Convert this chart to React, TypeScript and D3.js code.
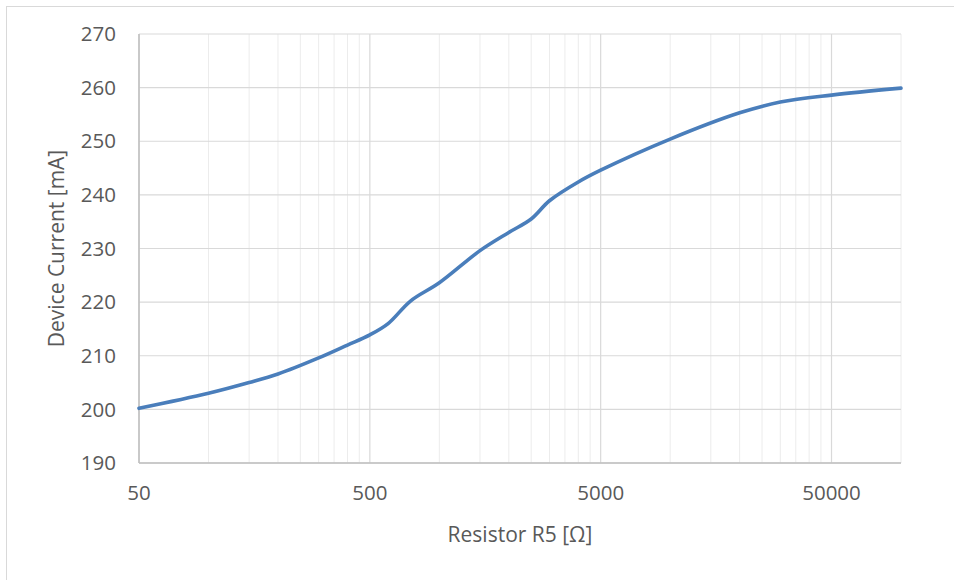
import React from 'react';
import * as d3 from 'd3';

// resistor sweep
const resistance = [
  50, 100, 150, 200, 300, 400, 500, 600, 750, 1000, 1500, 2000, 2500, 3000,
  4000, 5000, 10000, 20000, 30000, 50000, 100000,
];
const current = [
  200.2, 203.0, 205.0, 206.6, 209.6, 212.0, 213.9, 216.0, 220.2, 223.6, 229.6,
  233.0, 235.5, 238.9, 242.4, 244.6, 250.4, 255.3, 257.3, 258.6, 259.9,
];
const xMajorTicks = [50, 500, 5000, 50000];
const xTickLabels = ['50', '500', '5000', '50000'];
const yTicks = [190, 200, 210, 220, 230, 240, 250, 260, 270];

const width = 954;
const height = 580;
const margin = { top: 34, right: 53, bottom: 117, left: 139 };
const font = '"Open Sans", "Noto Sans", sans-serif';

export default function App() {
  const x = d3
    .scaleLog()
    .domain([50, 100000])
    .range([margin.left, width - margin.right]);
  const y = d3
    .scaleLinear()
    .domain([190, 270])
    .range([height - margin.bottom, margin.top]);

  // excel style minor grid: multiples of each major step
  const minorTicks: number[] = [];
  xMajorTicks.forEach((base) => {
    for (let m = 2; m <= 9; m++) {
      if (base * m <= 100000) minorTicks.push(base * m);
    }
  });

  const points = resistance.map((r, i) => [x(r), y(current[i])] as [number, number]);
  const line = d3.line().curve(d3.curveCatmullRom.alpha(0.5));

  const x0 = margin.left;
  const x1 = width - margin.right;
  const y0 = height - margin.bottom;
  const y1 = margin.top;

  return (
    <svg
      width={width}
      height={height}
      style={{ position: 'absolute', left: 0, top: 0, background: '#fff' }}
    >
      <rect x={6.5} y={6.5} width={width + 10} height={height + 10} fill="#fff" stroke="#d9d9d9" />

      {minorTicks.map((t) => (
        <line key={'m' + t} x1={x(t)} x2={x(t)} y1={y1} y2={y0} stroke="#ececec" strokeWidth={1} />
      ))}
      {xMajorTicks.map((t) => (
        <line key={'M' + t} x1={x(t)} x2={x(t)} y1={y1} y2={y0} stroke="#d9d9d9" strokeWidth={1.2} />
      ))}
      {yTicks.map((t) => (
        <line key={'y' + t} x1={x0} x2={x1} y1={y(t)} y2={y(t)} stroke="#d9d9d9" strokeWidth={1.2} />
      ))}

      <line x1={x0} x2={x0} y1={y1} y2={y0} stroke="#bfbfbf" strokeWidth={1.5} />
      <line x1={x0} x2={x1} y1={y0} y2={y0} stroke="#bfbfbf" strokeWidth={1.5} />

      <path
        d={line(points) || ''}
        fill="none"
        stroke="#4a7ebb"
        strokeWidth={3.6}
        strokeLinecap="round"
        strokeLinejoin="round"
      />

      {yTicks.map((t) => (
        <text
          key={'yl' + t}
          x={x0 - 23}
          y={y(t)}
          dy="0.35em"
          textAnchor="end"
          fontFamily={font}
          fontSize={20.5}
          fill="#595959"
        >
          {t}
        </text>
      ))}
      {xMajorTicks.map((t, i) => (
        <text
          key={'xl' + t}
          x={x(t)}
          y={y0 + 30}
          dy="0.35em"
          textAnchor="middle"
          fontFamily={font}
          fontSize={20.5}
          fill="#595959"
        >
          {xTickLabels[i]}
        </text>
      ))}

      <text
        x={(x0 + x1) / 2}
        y={y0 + 72}
        dy="0.35em"
        textAnchor="middle"
        fontFamily={font}
        fontSize={21}
        fill="#595959"
      >
        Resistor R5 [Ω]
      </text>
      <text
        transform={`translate(57,${(y0 + y1) / 2}) rotate(-90)`}
        dy="0.35em"
        textAnchor="middle"
        fontFamily={font}
        fontSize={21}
        fill="#595959"
      >
        Device Current [mA]
      </text>
    </svg>
  );
}
